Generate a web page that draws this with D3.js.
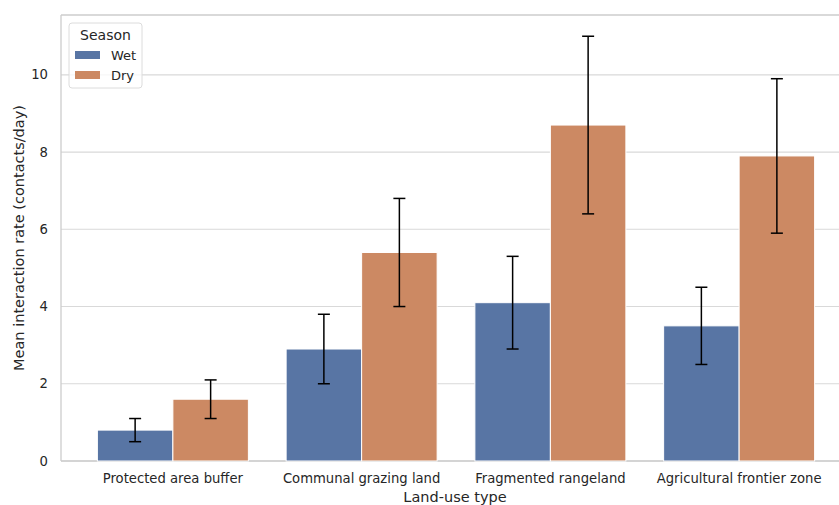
<!DOCTYPE html>
<html>
<head>
<meta charset="utf-8">
<script src="https://cdn.jsdelivr.net/npm/d3@7"></script>
<style>
  body { margin: 0; background: #fff; }
  svg text { font-family: "DejaVu Sans", sans-serif; fill: #262626; }
</style>
</head>
<body>
<div id="chart"></div>
<script>
var categories = ["Protected area buffer", "Communal grazing land", "Fragmented rangeland", "Agricultural frontier zone"];
var seasons = ["Wet", "Dry"];
var wetValues = [0.8, 2.9, 4.1, 3.5];
var dryValues = [1.6, 5.4, 8.7, 7.9];
var wetLow = [0.5, 2.0, 2.9, 2.5];
var wetHigh = [1.1, 3.8, 5.3, 4.5];
var dryLow = [1.1, 4.0, 6.4, 5.9];
var dryHigh = [2.1, 6.8, 11.0, 9.9];
var yTicks = [0, 2, 4, 6, 8, 10];

var width = 839, height = 505;
var colors = { Wet: "#5875a4", Dry: "#cc8963" };

var svg = d3.select("#chart").append("svg")
	.attr("width", width)
	.attr("height", height);

var plotLeft = 61, plotTop = 15, plotBottom = 461;

var y = d3.scaleLinear().domain([0, 11.55]).range([plotBottom, plotTop]);
var x = d3.scaleBand().domain(categories).range([78.5, 833.5])
	.paddingInner(0.2).paddingOuter(0.1);
var xs = d3.scaleBand().domain(seasons).range([0, x.bandwidth()]).padding(0);

// rows for each bar
var rows = [];
categories.forEach(function (c, i) {
	rows.push({ cat: c, season: "Wet", v: wetValues[i], lo: wetLow[i], hi: wetHigh[i] });
	rows.push({ cat: c, season: "Dry", v: dryValues[i], lo: dryLow[i], hi: dryHigh[i] });
});

// grid
svg.append("g").selectAll("line")
	.data(yTicks)
	.enter().append("line")
	.attr("x1", plotLeft).attr("x2", width)
	.attr("y1", d => y(d)).attr("y2", d => y(d))
	.attr("stroke", "#d9d9d9").attr("stroke-width", 1.1);

// spines
svg.append("line").attr("x1", plotLeft).attr("x2", plotLeft)
	.attr("y1", plotTop).attr("y2", plotBottom)
	.attr("stroke", "#cccccc").attr("stroke-width", 1.3);
svg.append("line").attr("x1", plotLeft).attr("x2", width)
	.attr("y1", plotBottom).attr("y2", plotBottom)
	.attr("stroke", "#cccccc").attr("stroke-width", 1.3);
svg.append("line").attr("x1", plotLeft).attr("x2", width)
	.attr("y1", plotTop).attr("y2", plotTop)
	.attr("stroke", "#cccccc").attr("stroke-width", 1.3);

// bars
svg.append("g").selectAll("rect")
	.data(rows)
	.enter().append("rect")
	.attr("x", d => x(d.cat) + xs(d.season))
	.attr("y", d => y(d.v))
	.attr("width", xs.bandwidth())
	.attr("height", d => y(0) - y(d.v))
	.attr("fill", d => colors[d.season])
	.attr("stroke", "#ffffff")
	.attr("stroke-width", 1);

// error bars
var err = svg.append("g").selectAll("g")
	.data(rows)
	.enter().append("g")
	.attr("stroke", "#000")
	.attr("stroke-width", 1.5);
var cx = d => x(d.cat) + xs(d.season) + xs.bandwidth() / 2;
err.append("line")
	.attr("x1", cx).attr("x2", cx)
	.attr("y1", d => y(d.lo)).attr("y2", d => y(d.hi));
err.append("line")
	.attr("x1", d => cx(d) - 6).attr("x2", d => cx(d) + 6)
	.attr("y1", d => y(d.lo)).attr("y2", d => y(d.lo));
err.append("line")
	.attr("x1", d => cx(d) - 6).attr("x2", d => cx(d) + 6)
	.attr("y1", d => y(d.hi)).attr("y2", d => y(d.hi));

// y tick labels
svg.append("g").selectAll("text")
	.data(yTicks)
	.enter().append("text")
	.attr("x", 48)
	.attr("y", d => y(d))
	.attr("dy", "0.35em")
	.attr("text-anchor", "end")
	.style("font-size", "13.2px")
	.text(d => d);

// x tick labels
svg.append("g").selectAll("text")
	.data(categories)
	.enter().append("text")
	.attr("x", d => x(d) + x.bandwidth() / 2)
	.attr("y", 483)
	.attr("text-anchor", "middle")
	.style("font-size", "13.2px")
	.text(d => d);

// axis titles
svg.append("text")
	.attr("x", (plotLeft + width) / 2 + 5)
	.attr("y", 502)
	.attr("text-anchor", "middle")
	.style("font-size", "14.5px")
	.text("Land-use type");

svg.append("text")
	.attr("transform", "translate(24," + ((plotTop + plotBottom) / 2) + ") rotate(-90)")
	.attr("text-anchor", "middle")
	.style("font-size", "14.5px")
	.text("Mean interaction rate (contacts/day)");

// legend
var lg = svg.append("g").attr("transform", "translate(69,23)");
lg.append("rect")
	.attr("width", 73).attr("height", 65)
	.attr("rx", 3)
	.attr("fill", "#fff").attr("fill-opacity", 0.8)
	.attr("stroke", "#dcdcdc");
lg.append("text")
	.attr("x", 36.5).attr("y", 17)
	.attr("text-anchor", "middle")
	.style("font-size", "14px")
	.text("Season");
var items = lg.selectAll("g.item")
	.data(seasons)
	.enter().append("g")
	.attr("class", "item")
	.attr("transform", (d, i) => "translate(6," + (32 + i * 20) + ")");
items.append("rect")
	.attr("width", 25).attr("height", 8)
	.attr("y", -4)
	.attr("fill", d => colors[d]);
items.append("text")
	.attr("x", 36).attr("dy", "0.35em")
	.style("font-size", "13px")
	.text(d => d);
</script>
</body>
</html>
